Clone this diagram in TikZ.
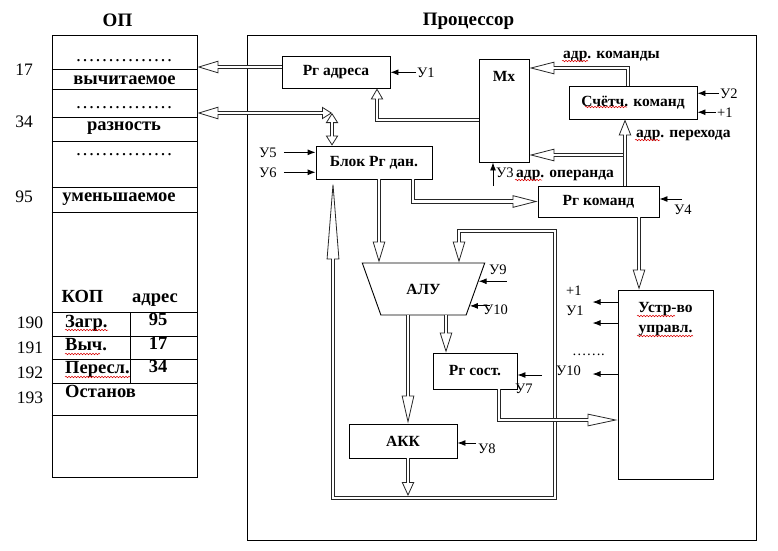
\documentclass[tikz,border=0pt]{standalone}
\usepackage{fontspec}
\setmainfont{Liberation Serif}
\usetikzlibrary{positioning, arrows.meta, shapes.geometric, calc, decorations.pathmorphing}

\begin{document}
\begin{tikzpicture}[
  x=1pt, y=-1pt,
  box/.style={draw, rectangle, line width=0.9pt, align=center, inner sep=2pt, font=\fontsize{15.5}{18}\selectfont\bfseries},
  outer/.style={draw, rectangle, line width=0.9pt, inner sep=0pt},
  bus gap/.store in=\busgap, bus gap=2.6pt,
  bus/.style={draw=black!85, line width=4.4pt, postaction={draw=white, line width=\busgap, arrows=-, shorten >=#1}},
  bus/.default=0pt,
  hol/.style={-{Triangle[open, length=#1, width=12.5pt, line width=0.8pt]}, bus=#1-1pt},
  hol/.default=20pt,
  dhol/.style 2 args={{Triangle[open, length=#1, width=12.5pt, line width=0.8pt]}-{Triangle[open, length=#2, width=12.5pt, line width=0.8pt]},
    draw=black!85, line width=4.4pt, postaction={draw=white, line width=\busgap, arrows=-, shorten <=#1-1pt, shorten >=#2-1pt}},
  ctl/.style={-{Latex[length=8pt, width=6pt]}, line width=0.9pt},
  sig/.style={font=\fontsize{14.5}{16}\selectfont, inner sep=1pt},
  lbl/.style={font=\fontsize{15.5}{20}\selectfont\bfseries, inner sep=1pt},
  optxt/.style={font=\fontsize{18.5}{20}\selectfont\bfseries, inner sep=1pt},
  addr/.style={font=\fontsize{17.5}{20}\selectfont, inner sep=1pt},
  ttl/.style={font=\fontsize{19}{22}\selectfont\bfseries, inner sep=1pt},
  squig/.style={draw=red!85!black, line width=0.5pt, decorate, decoration={snake, amplitude=0.8pt, segment length=3pt}}
]
  \useasboundingbox (0,0) rectangle (778,550);

  \node[outer, minimum width=145pt, minimum height=442pt] (op)  at (124.5,256)   {};
  \node[outer, minimum width=509pt, minimum height=505pt] (cpu) at (501.5,287.5) {};
  \node[ttl, anchor=base] (opT)  at (117.5,26) {ОП};
  \node[ttl, anchor=base] (cpuT) at (468.5,25) {Процессор};

  \foreach \y in {69,89,117,141,187,212,312,336,359,383,415}
    \draw[line width=0.9pt] (op.west |- 0,\y) -- (op.east |- 0,\y);
  \draw[line width=0.9pt] (130,312) -- (130,383);

  \node[optxt, anchor=base, font=\fontsize{19.5}{20}\selectfont] (dots1) at (124,61)  {……………};
  \node[optxt, anchor=base] (subt)  at (124.5,84) {вычитаемое};
  \node[optxt, anchor=base, font=\fontsize{19.5}{20}\selectfont] (dots2) at (124,108) {……………};
  \node[optxt, anchor=base] (diff)  at (124,130)  {разность};
  \node[optxt, anchor=base, font=\fontsize{19.5}{20}\selectfont] (dots3) at (124,155) {……………};
  \node[optxt, anchor=base] (minu)  at (119,201)  {уменьшаемое};
  \node[optxt, anchor=base] (kop)   at (82.5,302) {КОП};
  \node[optxt, anchor=base] (adrH)  at (155,302)  {адрес};
  \node[optxt, anchor=base west] (zagr) at (64,327) {Загр.};
  \node[optxt, anchor=base west] (vych) at (64,350) {Выч.};
  \node[optxt, anchor=base west] (pers) at (64,373) {Пересл.};
  \node[optxt, anchor=base west] (stop) at (64,397) {Останов};
  \node[optxt, anchor=base] (a95) at (158,325) {95};
  \node[optxt, anchor=base] (a17) at (158,349) {17};
  \node[optxt, anchor=base] (a34) at (158,372) {34};

  \node[addr, anchor=base] (n17)  at (24,75)  {17};
  \node[addr, anchor=base] (n34)  at (24,127) {34};
  \node[addr, anchor=base] (n95)  at (24,202) {95};
  \node[addr, anchor=base] (n190) at (30,328) {190};
  \node[addr, anchor=base] (n191) at (30,353) {191};
  \node[addr, anchor=base] (n192) at (30,378) {192};
  \node[addr, anchor=base] (n193) at (30,403) {193};

  \node[box, minimum width=108pt, minimum height=32pt]  (rgAddr)  at (336,72)    {Рг адреса};
  \node[box, minimum width=50pt,  minimum height=103pt,
        label={[lbl, anchor=north, yshift=-12pt]north:Мх}] (mx) at (504,110.5) {};
  \node[box, minimum width=128pt, minimum height=33pt]  (cnt)     at (633,102.5) {Счётч. команд};
  \node[box, minimum width=116pt, minimum height=33pt]  (dataBlk) at (374,162.5) {Блок Рг дан.};
  \node[box, minimum width=121pt, minimum height=31pt]  (rgCmd)   at (598.5,201.5) {Рг команд};
  \node[box, trapezium, trapezium angle=60, shape border rotate=180, trapezium stretches=true,
        minimum width=123pt, minimum height=52pt]        (alu)     at (423.5,289) {АЛУ};
  \node[box, minimum width=84pt,  minimum height=36pt]  (stReg)   at (475,371)   {Рг сост.};
  \node[box, minimum width=108pt, minimum height=34pt]  (acc)     at (403,441)   {АКК};
  \node[box, minimum width=95pt,  minimum height=189pt,
        label={[lbl, align=center, anchor=north, yshift=-12pt]north:Устр-во\\управл.}] (cu) at (665.5,384.5) {};

  \coordinate (jn)  at (332,113);
  \coordinate (opd) at (623,155);
  \coordinate (lpL) at (333,498);
  \coordinate (lpR) at (555,498);
  \coordinate (lpT) at (459,231);

  \draw[hol=21pt] (rgAddr.west |- 0,67) -- (op.east |- 0,67);
  \draw[dhol={21pt}{10pt}] (op.east |- jn) -- (jn);
  \draw[dhol={10pt}{10pt}] (jn) -- (jn |- dataBlk.north);
  \draw[hol=11pt] (mx.west |- 0,120) -| (rgAddr.south -| 377,0);
  \draw[hol=25pt] (cnt.north -| 628,0) |- (mx.east |- 0,68);
  \draw[hol=16pt] (rgCmd.north -| 625,0) -- (cnt.south -| 625,0);
  \draw[hol=25pt] (opd) -- (opd -| mx.east);
  \draw[hol=25pt] (dataBlk.south -| 413,0) |- (rgCmd.west);
  \draw[hol=21pt] (dataBlk.south -| 379,0) -- (alu.north -| 379,0);
  \draw[bus gap=1.6pt, dhol={80pt}{21pt}] (dataBlk.south -| lpL) -- (lpL) -- (lpR) |- (lpT) -- (alu.north -| lpT);
  \draw[hol=28pt] (alu.south -| 408,0) -- (acc.north -| 408,0);
  \draw[hol=20pt] (alu.south -| 446,0) -- (stReg.north -| 446,0);
  \draw[hol=14pt] (acc.south -| 408,0) -- (408,496);
  \draw[hol=30pt] (stReg.south -| 499,0) |- (cu.west |- 0,420);
  \draw[hol=20pt] (rgCmd.south -| 639,0) -- (cu.north -| 639,0);

  \node[lbl, anchor=base west] (adrK) at (562,58)  {адр. команды};
  \node[lbl, anchor=base west] (adrP) at (635,137) {адр. перехода};
  \node[lbl, anchor=base west] (adrO) at (515,177) {адр. операнда};

  \node[sig, anchor=base west] (u1)  at (416,77)  {У1};
  \node[sig, anchor=base west] (u2)  at (719,98)  {У2};
  \node[sig, anchor=base west] (p1)  at (716,117) {+1};
  \node[sig, anchor=base west] (u3)  at (495,177) {У3};
  \node[sig, anchor=base west] (u4)  at (673,214) {У4};
  \node[sig, anchor=base west] (u5)  at (258,157) {У5};
  \node[sig, anchor=base west] (u6)  at (258,177) {У6};
  \node[sig, anchor=base west] (u7)  at (514,393) {У7};
  \node[sig, anchor=base west] (u8)  at (477,453) {У8};
  \node[sig, anchor=base west] (u9)  at (488,274) {У9};
  \node[sig, anchor=base west] (u10) at (482,314) {У10};
  \node[sig, anchor=base west] (cP1)  at (565,295) {+1};
  \node[sig, anchor=base west] (cU1)  at (565,315) {У1};
  \node[sig, anchor=base west] (cDot) at (571,355) {…….};
  \node[sig, anchor=base west] (cU10) at (555,375) {У10};

  \draw[ctl] (u1.west) -- (u1.west -| rgAddr.east);
  \draw[ctl] (u2.west) -- (u2.west -| cnt.east);
  \draw[ctl] (p1.west) -- (p1.west -| cnt.east);
  \draw[ctl] (493,186) -- (mx.south -| 493,0);
  \draw[ctl] (682,199) -- (rgCmd.east |- 0,199);
  \draw[ctl] ([xshift=6pt]u5.east) -- (u5.east -| dataBlk.west);
  \draw[ctl] ([xshift=6pt]u6.east) -- (u6.east -| dataBlk.west);
  \draw[ctl] (542,375) -- (stReg.east |- 0,375);
  \draw[ctl] (476,443) -- (acc.east |- 0,443);
  \draw[ctl] ($(alu.8)+(28,0)$) -- (alu.8);
  \draw[ctl] ($(alu.-20)+(20,0)$) -- (alu.-20);
  \foreach \y in {302,323,374}
    \draw[ctl] (cu.west |- 0,\y) -- ++(-25,0);

  \draw[squig] (65,330) -- (108,330);
  \draw[squig] (65,354) -- (100,354);
  \draw[squig] (65,377) -- (130,377);
  \draw[squig] (585,107) -- (627,107);
  \draw[squig] (562,61) -- (588,61);
  \draw[squig] (635,140) -- (660,140);
  \draw[squig] (515,180) -- (542,180);
  \draw[squig] (637,316) -- (675,316);
  \draw[squig] (637,336) -- (693,336);
\end{tikzpicture}
\end{document}
